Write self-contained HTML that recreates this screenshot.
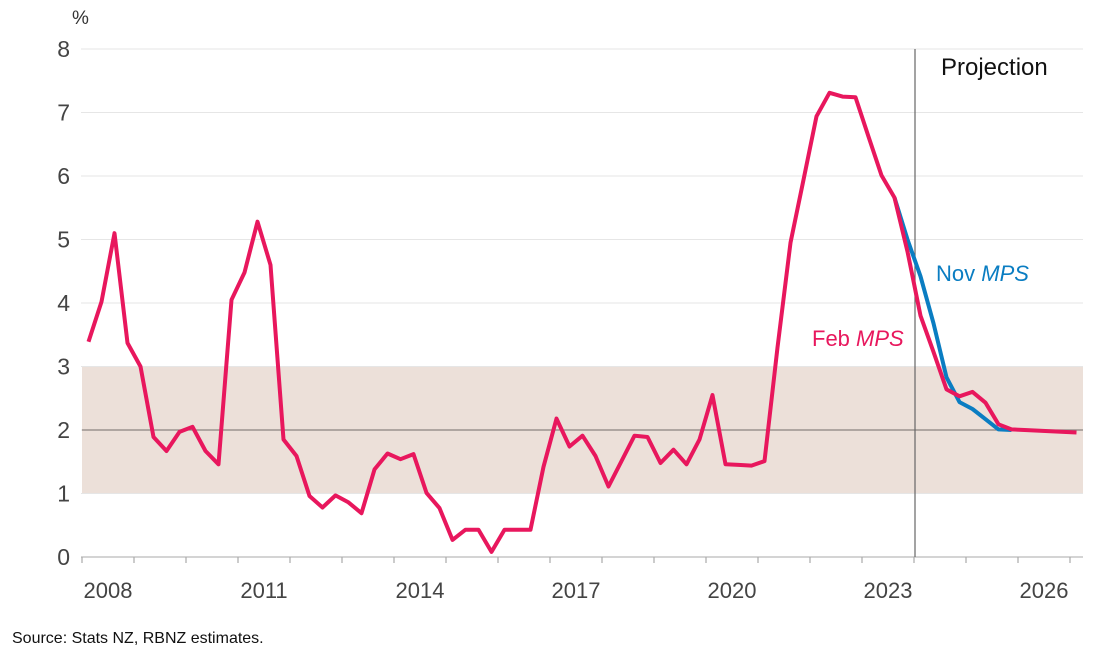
<!DOCTYPE html>
<html><head><meta charset="utf-8"><style>
html,body{margin:0;padding:0;background:#fff;}
svg{display:block;font-family:"Liberation Sans",sans-serif;}
</style></head><body>
<svg id="chart" width="1109" height="661" xmlns="http://www.w3.org/2000/svg">
<g id="grid"></g>
<g id="axes"></g>
<g id="series"></g>
<text x="72" y="24" font-size="19" fill="#333">%</text>
<text x="941" y="75" font-size="24" fill="#111">Projection</text>
<text x="936" y="281" font-size="22" fill="#0a7dc2">Nov <tspan font-style="italic">MPS</tspan></text>
<text x="812" y="346" font-size="22" fill="#e8175d">Feb <tspan font-style="italic">MPS</tspan></text>
<text x="12" y="643" font-size="16" fill="#111">Source: Stats NZ, RBNZ estimates.</text>
</svg>
<script>
const yTicks = [0,1,2,3,4,5,6,7,8];
const yearLabels = ["2008","2011","2014","2017","2020","2023","2026"];
const startYear = 2008;
const projectionStart = 2024;
const bandRange = [1,3];
const targetMid = 2;
// Feb MPS quarterly, starting 2008Q1
const febValues = [3.39,4.02,5.10,3.37, 3.0,1.89,1.67,1.97, 2.05,1.67,1.46,4.05, 4.48,5.28,4.6,1.85,
 1.59,0.96,0.78,0.97, 0.86,0.69,1.38,1.63, 1.54,1.62,1.01,0.77, 0.27,0.43,0.43,0.08,
 0.43,0.43,0.43,1.42, 2.18,1.74,1.91,1.59, 1.11,1.51,1.91,1.89, 1.48,1.69,1.46,1.85,
 2.55,1.46,1.45,1.44, 1.51,3.3,4.95,5.94, 6.94,7.31,7.25,7.24, 6.62,6.01,5.66,4.81,
 3.80,3.23,2.64,2.53, 2.60,2.43,2.09,2.01, 2.0,1.99,1.98,1.97, 1.96];
// Nov MPS, starting 2023Q3
const novStartIndex = 62;
const novValues = [5.66,5.0,4.42,3.68,2.83,2.44,2.33,2.17,2.01,2.0];

const NS="http://www.w3.org/2000/svg";
const X0=82, X1=1083, PXY=52, Y0=557, PXV=63.5;
const xYear = y => X0 + (y - startYear)*PXY;
const xQ = i => xYear(startYear + i/4 + 0.125);
const yV = v => Y0 - v*PXV;
function mk(tag, attrs, parent){const e=document.createElementNS(NS,tag);for(const k in attrs)e.setAttribute(k,attrs[k]);parent.appendChild(e);return e;}
const grid=document.getElementById('grid'), axes=document.getElementById('axes'), series=document.getElementById('series');

let band=mk('rect',{x:X0,y:yV(bandRange[1]),width:X1-X0,height:yV(bandRange[0])-yV(bandRange[1]),fill:'#ece0d9'},grid);


yTicks.forEach(t=>{
  if(t>0){let g=mk('line',{x1:X0-1,x2:X1,y1:yV(t),y2:yV(t),stroke:'#e6e6e6','stroke-width':1},grid);
  
  }
  let l=mk('text',{x:70,y:yV(t)+8,'font-size':23,fill:'#444','text-anchor':'end'},axes);
  l.textContent=t;
  
  
});
let mid=mk('line',{x1:X0,x2:X1,y1:yV(targetMid),y2:yV(targetMid),stroke:'#8a8480','stroke-width':1.3},grid);


let ax=mk('line',{x1:X0-1,x2:X1,y1:Y0,y2:Y0,stroke:'#bbb','stroke-width':1.3},axes);


for(let k=0;k<=19;k++){
  let t=mk('line',{x1:xYear(startYear+k),x2:xYear(startYear+k),y1:Y0,y2:Y0+6,stroke:'#aaa','stroke-width':1.2},axes);
  
  
}
yearLabels.forEach(s=>{
  let l=mk('text',{x:xYear(+s+0.5),y:598,'font-size':22,fill:'#444','text-anchor':'middle'},axes);
  l.textContent=s;
  
  
});
let pl=mk('line',{x1:xYear(projectionStart)+1,x2:xYear(projectionStart)+1,y1:49,y2:Y0,stroke:'#666','stroke-width':1.2},axes);



let novPts=novValues.map((v,i)=>xQ(novStartIndex+i).toFixed(1)+','+yV(v).toFixed(1)).join(' ');
let nov=mk('polyline',{points:novPts,fill:'none',stroke:'#0a7dc2','stroke-width':4,'stroke-linejoin':'round'},series);


let febPts=febValues.map((v,i)=>xQ(i).toFixed(1)+','+yV(v).toFixed(1)).join(' ');
let feb=mk('polyline',{points:febPts,fill:'none',stroke:'#e8175d','stroke-width':4,'stroke-linejoin':'round'},series);


</script>
</body></html>
